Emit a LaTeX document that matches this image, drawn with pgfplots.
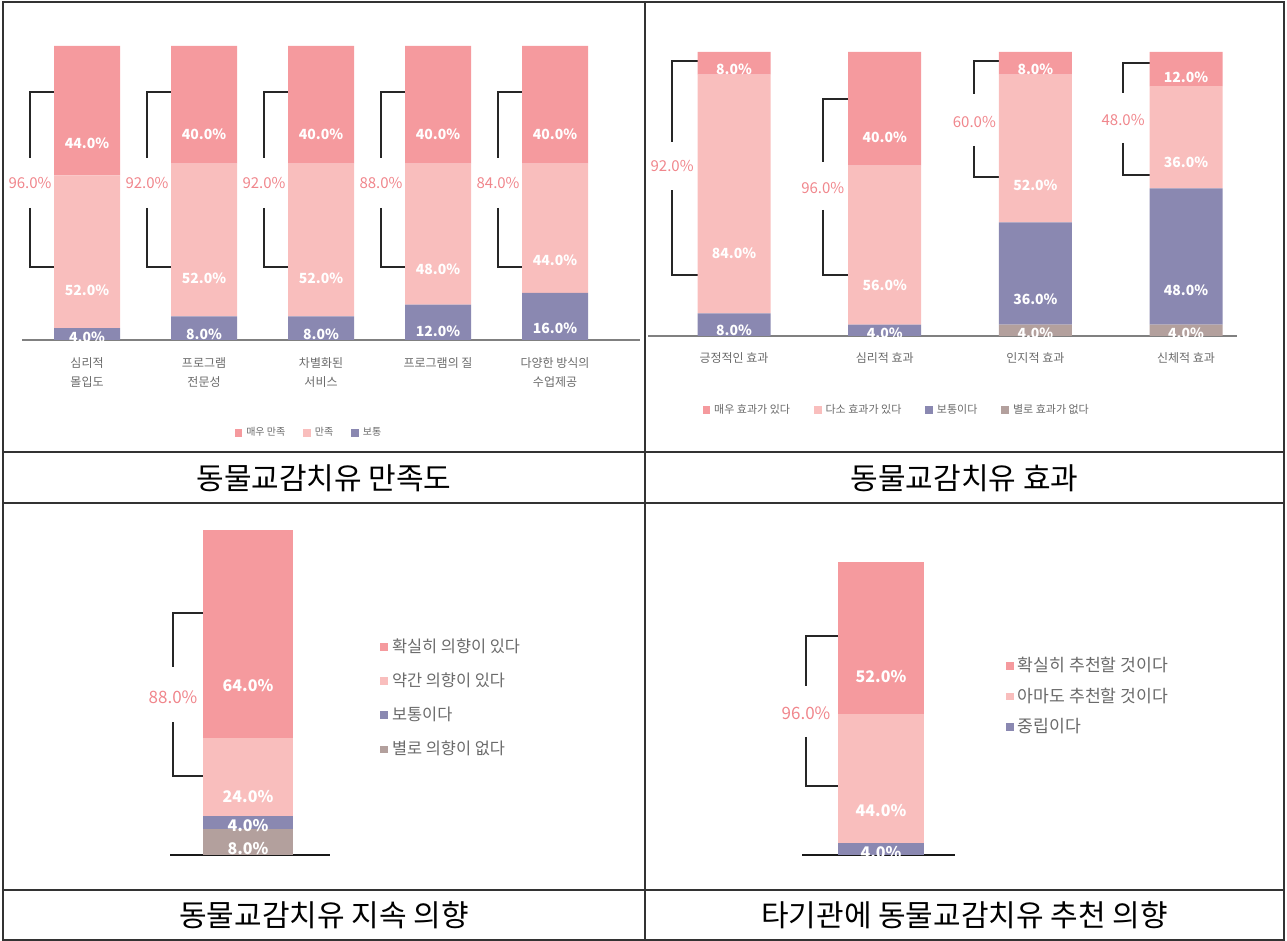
\documentclass[border=0pt]{standalone}
\usepackage{fontspec}
\usepackage{pgfplots}
\usepackage{pgfplotstable}
\pgfplotsset{compat=1.18}
\setmainfont{Noto Sans CJK KR}
\definecolor{c1}{HTML}{F59A9E}
\definecolor{c2}{HTML}{F9BEBD}
\definecolor{c3}{HTML}{8A88B1}
\definecolor{c4}{HTML}{B3A09D}
\definecolor{pk}{HTML}{F0868C}
\definecolor{tg}{HTML}{6A6A6A}

% 만족도: 보통, 만족, 매우 만족
\pgfplotstableread{
x bot mid top
0 4 52 44
1 8 52 40
2 8 52 40
3 12 48 40
4 16 44 40
}\satis
% 효과: 별로, 보통, 다소, 매우
\pgfplotstableread{
x none bot mid top
0 0 8 84 8
1 0 4 56 40
2 4 36 52 8
3 4 48 36 12
}\effect
% 지속 의향: 별로, 보통, 약간, 확실히
\pgfplotstableread{
x none bot mid top
0 8 4 24 64
}\cont
% 추천 의향: 중립, 아마도, 확실히
\pgfplotstableread{
x bot mid top
0 4 44 52
}\recom

\newcommand\seglabel{\pgfmathparse{\segv>0.5 ? 1 : 0}\ifnum\pgfmathresult=1 \pgfmathprintnumber[assume math mode=true,fixed,fixed zerofill,precision=1]{\segv}\%\fi}

\pgfplotsset{
  seg/.style={fill=#1, draw=none,
    legend image code/.code={\fill[#1] (0pt,-1.9pt) rectangle (3.8pt,1.9pt);}},
  base/.style={
    scale only axis, anchor=south west, ybar stacked,
    ymin=0, ymax=100, enlargelimits=false, clip=false,
    axis x line=bottom, axis y line=none, ytick=\empty,
    x axis line style={-},
    major tick length=0pt, xtick style={draw=none},
    nodes near coords={\seglabel},
    legend style={draw=none, fill=none, text=tg, inner sep=0pt,
      /tikz/every even column/.append style={column sep=7pt}},
    legend cell align=left, reverse legend,
  },
}
\tikzset{brk/.style={draw=black!85, line width=0.9pt}}
\newcommand\brk[8]{%
  \draw[brk] (axis cs:#2,#3) -- (axis cs:#1,#3) -- (axis cs:#1,#4);
  \draw[brk] (axis cs:#1,#5) -- (axis cs:#1,#6) -- (axis cs:#2,#6);
  \node[brkl] at (axis cs:#1,#7) {#8};
}

\begin{document}
\begin{tikzpicture}
\useasboundingbox (0,0) rectangle (643.5pt,470.5pt);

% ---------- chart 1 ----------
\begin{axis}[base,
  at={(11pt,300.5pt)}, width=309pt, height=147pt,
  bar width=33pt, xmin=-0.556, xmax=4.726,
  x axis line style={draw=black!50, line width=1pt},
  xtick={0,1,2,3,4},
  xticklabels={{심리적\\몰입도},{프로그램\\전문성},{차별화된\\서비스},{프로그램의 질},{다양한 방식의\\수업제공}},
  xticklabel style={align=center, font=\fontsize{6}{9.5}\selectfont, text=tg, yshift=-5.5pt},
  every node near coord/.append style={anchor=center, text=white, font=\fontsize{7}{8}\selectfont\bfseries, yshift=-\segv*0.3675pt},
  legend columns=-1,
  legend style={at={(rel axis cs:0.466,-0.316)}, anchor=center, font=\fontsize{5}{6}\selectfont},
  /tikz/brkl/.style={text=pk, font=\fontsize{7.5}{8}\selectfont, inner sep=0.5pt},
]
\addplot[seg=c3, visualization depends on={\thisrow{bot} \as \segv}] table[x=x,y=bot]{\satis};
\addlegendentry{보통}
\addplot[seg=c2, visualization depends on={\thisrow{mid} \as \segv}] table[x=x,y=mid]{\satis};
\addlegendentry{만족}
\addplot[seg=c1, visualization depends on={\thisrow{top} \as \segv}] table[x=x,y=top]{\satis};
\addlegendentry{매우 만족}
\brk{-0.487}{-0.282}{84.4}{61.9}{44.9}{24.8}{53.4}{96.0\%}
\brk{0.513}{0.718}{84.4}{61.9}{44.9}{24.8}{53.4}{92.0\%}
\brk{1.513}{1.718}{84.4}{61.9}{44.9}{24.8}{53.4}{92.0\%}
\brk{2.513}{2.718}{84.4}{61.9}{44.9}{24.8}{53.4}{88.0\%}
\brk{3.513}{3.718}{84.4}{61.9}{44.9}{24.8}{53.4}{84.0\%}
\end{axis}

% ---------- chart 2 ----------
\begin{axis}[base,
  at={(324pt,302.5pt)}, width=294.5pt, height=142pt,
  bar width=36.5pt, xmin=-0.571, xmax=3.338,
  x axis line style={draw=black!50, line width=1pt},
  xtick={0,1,2,3},
  xticklabels={{긍정적인 효과},{심리적 효과},{인지적 효과},{신체적 효과}},
  xticklabel style={align=center, font=\fontsize{6}{9.5}\selectfont, text=tg, yshift=-5pt},
  every node near coord/.append style={anchor=center, text=white, font=\fontsize{7}{8}\selectfont\bfseries, yshift=-\segv*0.355pt},
  legend columns=-1,
  legend style={at={(rel axis cs:0.424,-0.261)}, anchor=center, font=\fontsize{5.5}{6.5}\selectfont,
    /tikz/every even column/.append style={column sep=10pt}},
  /tikz/brkl/.style={text=pk, font=\fontsize{7.5}{8}\selectfont, inner sep=0.5pt},
]
\addplot[seg=c4, visualization depends on={\thisrow{none} \as \segv}] table[x=x,y=none]{\effect};
\addlegendentry{별로 효과가 없다}
\addplot[seg=c3, visualization depends on={\thisrow{bot} \as \segv}] table[x=x,y=bot]{\effect};
\addlegendentry{보통이다}
\addplot[seg=c2, visualization depends on={\thisrow{mid} \as \segv}] table[x=x,y=mid]{\effect};
\addlegendentry{다소 효과가 있다}
\addplot[seg=c1, visualization depends on={\thisrow{top} \as \segv}] table[x=x,y=top]{\effect};
\addlegendentry{매우 효과가 있다}
\brk{-0.411}{-0.242}{96.8}{68.3}{51.4}{21.5}{59.9}{92.0\%}
\brk{0.589}{0.758}{83.5}{61.3}{44.4}{21.5}{52.1}{96.0\%}
\brk{1.595}{1.758}{96.8}{85.2}{66.9}{56.0}{75.4}{60.0\%}
\brk{2.582}{2.758}{96.1}{85.6}{68.0}{56.7}{76.1}{48.0\%}
\end{axis}

% ---------- chart 3 ----------
\begin{axis}[base,
  at={(85pt,43pt)}, width=80pt, height=162.5pt,
  bar width=45pt, xmin=-78, xmax=82,
  x axis line style={draw=black!90, line width=0.9pt},
  xtick=\empty,
  every node near coord/.append style={anchor=center, text=white, font=\fontsize{8}{9}\selectfont\bfseries, yshift=-\segv*0.40625pt},
  legend columns=1,
  legend style={at={(rel axis cs:1.3125,0.68)}, anchor=north west, font=\fontsize{8.2}{9}\selectfont, row sep=4.8pt},
  /tikz/brkl/.style={text=pk, font=\fontsize{8.5}{9}\selectfont, inner sep=0.5pt},
]
\addplot[seg=c4, visualization depends on={\thisrow{none} \as \segv}] table[x=x,y=none]{\cont};
\addlegendentry{별로 의향이 없다}
\addplot[seg=c3, visualization depends on={\thisrow{bot} \as \segv}] table[x=x,y=bot]{\cont};
\addlegendentry{보통이다}
\addplot[seg=c2, visualization depends on={\thisrow{mid} \as \segv}] table[x=x,y=mid]{\cont};
\addlegendentry{약간 의향이 있다}
\addplot[seg=c1, visualization depends on={\thisrow{top} \as \segv}] table[x=x,y=top]{\cont};
\addlegendentry{확실히 의향이 있다}
\brk{-75}{-45}{74.5}{57.8}{40.9}{24.3}{48.6}{88.0\%}
\end{axis}

% ---------- chart 4 ----------
\begin{axis}[base,
  at={(401pt,43pt)}, width=76.5pt, height=146.5pt,
  bar width=43pt, xmin=-79, xmax=74,
  x axis line style={draw=black!90, line width=0.9pt},
  xtick=\empty,
  every node near coord/.append style={anchor=center, text=white, font=\fontsize{8}{9}\selectfont\bfseries, yshift=-\segv*0.36625pt},
  legend columns=1,
  legend style={at={(rel axis cs:1.333,0.69)}, anchor=north west, font=\fontsize{8.6}{9.5}\selectfont, row sep=2.6pt},
  /tikz/brkl/.style={text=pk, font=\fontsize{8.5}{9}\selectfont, inner sep=0.5pt},
]
\addplot[seg=c3, visualization depends on={\thisrow{bot} \as \segv}] table[x=x,y=bot]{\recom};
\addlegendentry{중립이다}
\addplot[seg=c2, visualization depends on={\thisrow{mid} \as \segv}] table[x=x,y=mid]{\recom};
\addlegendentry{아마도 추천할 것이다}
\addplot[seg=c1, visualization depends on={\thisrow{top} \as \segv}] table[x=x,y=top]{\recom};
\addlegendentry{확실히 추천할 것이다}
\brk{-75}{-43}{74.7}{57.7}{40.3}{23.5}{48.5}{96.0\%}
\end{axis}

% ---------- table frame ----------
\begin{scope}[draw=black!80, line width=0.8pt]
\draw (1.5pt,0.5pt) rectangle (642pt,469.5pt);
\draw (322.5pt,0.5pt) -- (322.5pt,469.5pt);
\draw (1.5pt,244.5pt) -- (642pt,244.5pt);
\draw (1.5pt,219pt) -- (642pt,219pt);
\draw (1.5pt,25.5pt) -- (642pt,25.5pt);
\end{scope}
\begin{scope}[font=\fontsize{15}{16}\selectfont]
\node at (162pt,231.5pt) {동물교감치유 만족도};
\node at (482.25pt,231.5pt) {동물교감치유 효과};
\node at (162pt,13pt) {동물교감치유 지속 의향};
\node at (482.25pt,13pt) {타기관에 동물교감치유 추천 의향};
\end{scope}
\end{tikzpicture}
\end{document}
